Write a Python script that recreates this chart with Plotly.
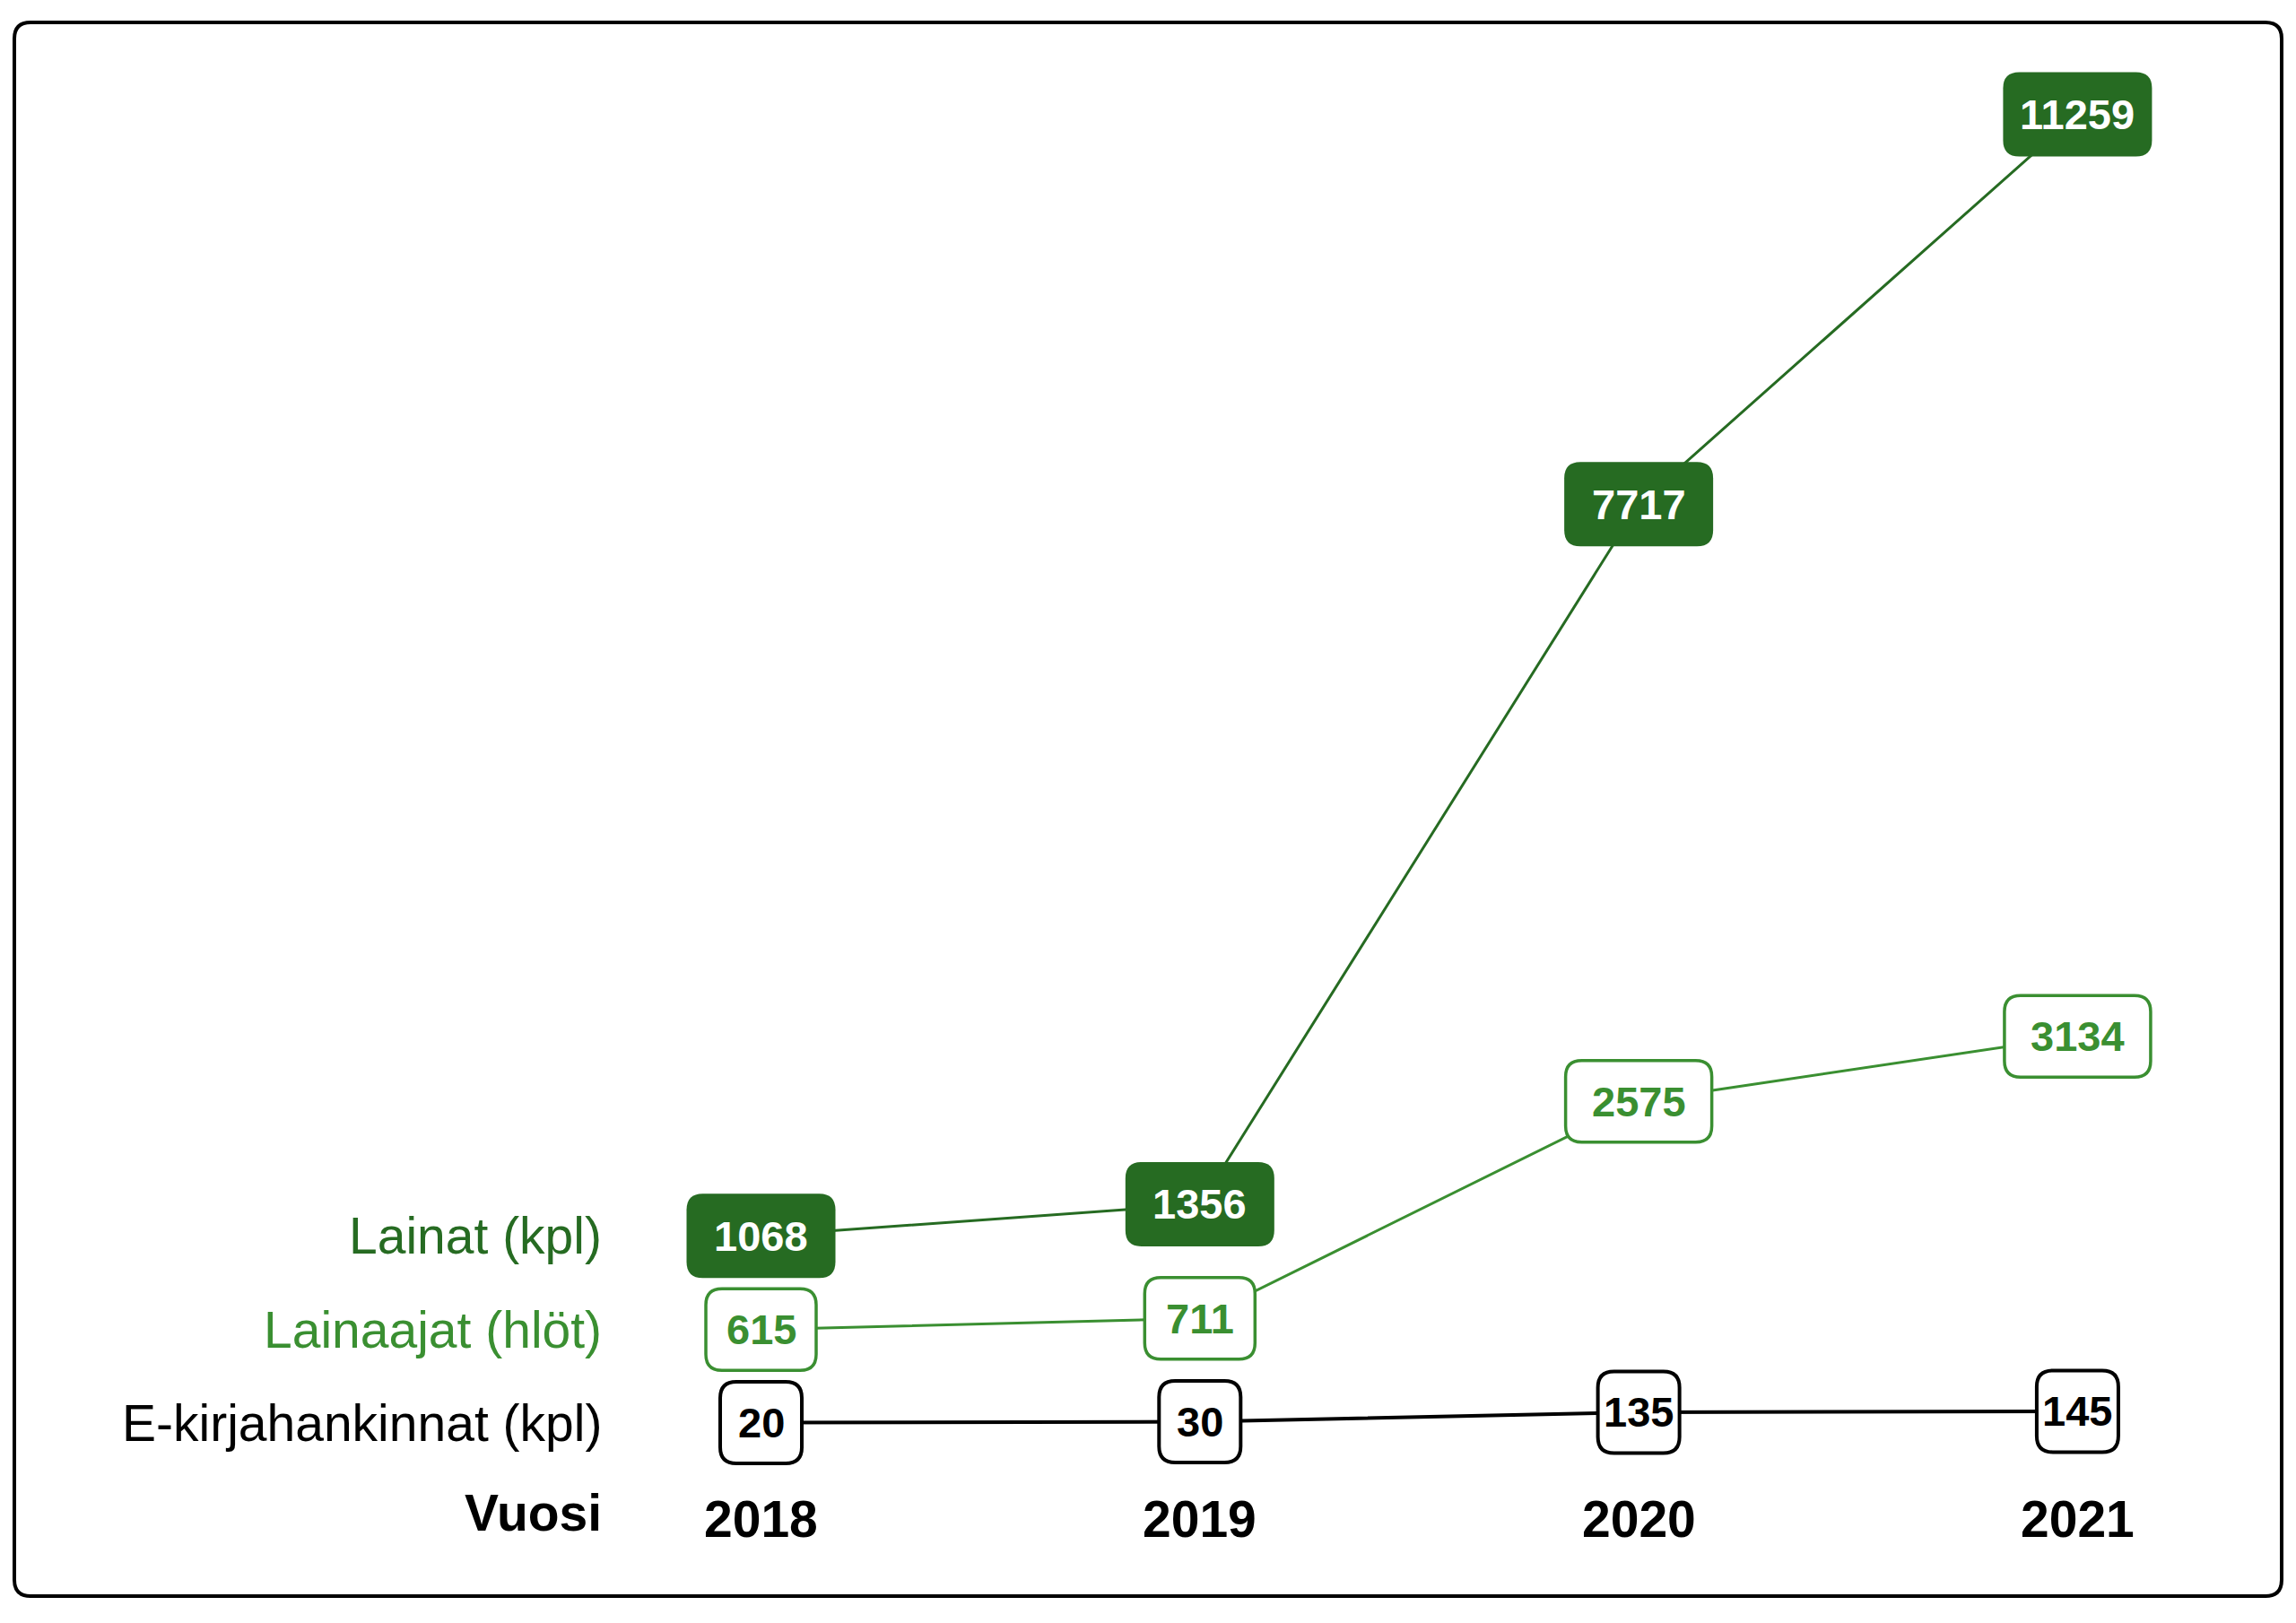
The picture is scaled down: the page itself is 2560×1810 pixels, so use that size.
import plotly.graph_objects as go

# ---- data ----
years = [2018, 2019, 2020, 2021]
year_labels = ["2018", "2019", "2020", "2021"]
lainat = [1068, 1356, 7717, 11259]
lainaajat = [615, 711, 2575, 3134]
ekirja = [20, 30, 135, 145]
row_names = ["Lainat (kpl)", "Lainaajat (hlöt)", "E-kirjahankinnat (kpl)"]
x_title = "Vuosi"

# ---- styles ----
DARK = "#266b22"
MID = "#3a8f31"
BLACK = "#000000"
FONT = "Liberation Sans"
W, H = 2560, 1810


def rounded_path(w, h, r):
    a, b = w / 2, h / 2
    return (f"M{-a + r},{b} L{a - r},{b} Q{a},{b} {a},{b - r} "
            f"L{a},{-b + r} Q{a},{-b} {a - r},{-b} "
            f"L{-a + r},{-b} Q{-a},{-b} {-a},{-b + r} "
            f"L{-a},{b - r} Q{-a},{b} {-a + r},{b} Z")


series = [
    dict(vals=lainat, ax="y3", color=DARK, lw=3, fill=DARK, border=DARK, bw=0, h=94,
         txt="white", widths={4: 166, 5: 166}, name=row_names[0], lab=DARK),
    dict(vals=lainaajat, ax="y2", color=MID, lw=3, fill="white", border=MID, bw=3.5, h=91,
         txt=MID, widths={3: 123, 4: 163}, name=row_names[1], lab=MID),
    dict(vals=ekirja, ax="y", color=BLACK, lw=4, fill="white", border=BLACK, bw=4, h=91,
         txt=BLACK, widths={2: 91, 3: 91}, name=row_names[2], lab=BLACK),
]

fig = go.Figure()
shapes = []
annotations = []

for s in series:
    fig.add_trace(go.Scatter(x=years, y=s["vals"], yaxis=s["ax"], mode="lines",
                             line=dict(color=s["color"], width=s["lw"]),
                             hoverinfo="skip", showlegend=False))
    for yr, v in zip(years, s["vals"]):
        lab = str(v)
        w = s["widths"][len(lab)]
        shapes.append(dict(type="path", xref="x", yref=s["ax"],
                           xsizemode="pixel", ysizemode="pixel",
                           xanchor=yr, yanchor=v,
                           path=rounded_path(w, s["h"], 18),
                           fillcolor=s["fill"],
                           line=dict(color=s["border"], width=s["bw"]),
                           layer="above"))
        annotations.append(dict(x=yr, y=v, xref="x", yref=s["ax"], text=lab,
                                showarrow=False, xanchor="center", yanchor="middle",
                                font=dict(family=FONT, size=47, color=s["txt"], weight="bold")))
    annotations.append(dict(x=673 / W, y=s["vals"][0], xref="paper", yref=s["ax"],
                            text=s["name"], showarrow=False, xanchor="right", yanchor="middle",
                            font=dict(family=FONT, size=57, color=s["lab"])))

for yr, t in zip(years, year_labels):
    annotations.append(dict(x=yr, y=1 - 1694 / H, xref="x", yref="paper", text=t,
                            showarrow=False, xanchor="center", yanchor="middle",
                            font=dict(family=FONT, size=57, color=BLACK, weight="bold")))
annotations.append(dict(x=673 / W, y=1 - 1687 / H, xref="paper", yref="paper", text=x_title,
                        showarrow=False, xanchor="right", yanchor="middle",
                        font=dict(family=FONT, size=57, color=BLACK, weight="bold")))

shapes.append(dict(type="path", xref="paper", yref="paper", xsizemode="pixel", ysizemode="pixel",
                   xanchor=0, yanchor=1,
                   path=(lambda x0, x1, y0, y1, r:
                         f"M{x0 + r},{y0} L{x1 - r},{y0} Q{x1},{y0} {x1},{y0 - r} "
                         f"L{x1},{y1 + r} Q{x1},{y1} {x1 - r},{y1} L{x0 + r},{y1} "
                         f"Q{x0},{y1} {x0},{y1 + r} L{x0},{y0 - r} Q{x0},{y0} {x0 + r},{y0} Z")
                   (16, 2544, -25, -1780, 18),
                   line=dict(color=BLACK, width=4), fillcolor="rgba(0,0,0,0)", layer="above"))

axis_off = dict(visible=False, showgrid=False, zeroline=False, fixedrange=True)
fig.update_layout(
    width=W, height=H, autosize=False,
    margin=dict(l=0, r=0, t=0, b=0, pad=0),
    paper_bgcolor="white", plot_bgcolor="white",
    showlegend=False, hovermode=False,
    xaxis=dict(range=[2018 - 1.7341, 2018 + 3.4978], domain=[0, 1], **axis_off),
    yaxis=dict(range=[-2189.4, 15708], domain=[0, 1], **axis_off),
    yaxis2=dict(range=[-1904.6, 12032.4], overlaying="y", **axis_off),
    yaxis3=dict(range=[-2449, 12297], overlaying="y", **axis_off),
    shapes=shapes, annotations=annotations,
)

fig.write_html("out.html", config={"displayModeBar": False},
               post_script="document.body.style.margin='0';document.body.style.overflow='hidden';")
